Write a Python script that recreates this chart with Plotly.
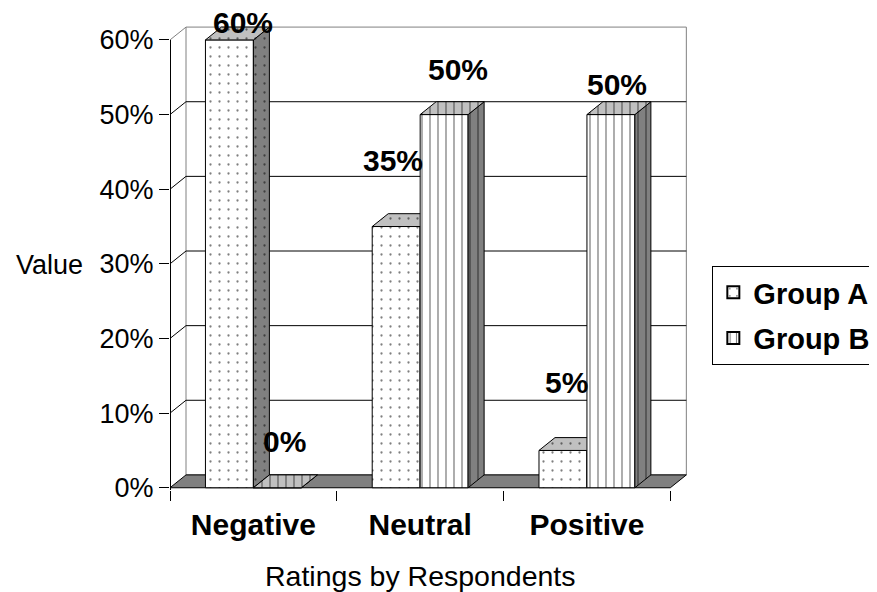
import plotly.graph_objects as go

# ---------------- data ----------------
categories = ["Negative", "Neutral", "Positive"]
series_names = ["Group A", "Group B"]
group_a = [0.60, 0.35, 0.05]
group_b = [0.00, 0.50, 0.50]
y_tick_values = [0.0, 0.1, 0.2, 0.3, 0.4, 0.5, 0.6]
x_title = "Ratings by Respondents"
y_title = "Value"

# ---------------- style ----------------
FONT = "Liberation Sans, Arial, sans-serif"
BAR_W = 0.2875          # width of one bar in category units
DX = 0.096              # 3-D depth, category units
DY = 0.0172             # 3-D depth, value units
X_RANGE = [-0.5, 2.6]
Y_RANGE = [-0.003, 0.62]
DARK = "#808080"
LIGHT = "#c0c0c0"
PAT = {
    "Group A": dict(shape=".", size=9, solidity=0.05),
    "Group B": dict(shape="|", size=8, solidity=0.16),
}
# label offsets in pixels (xshift, yshift) per series / category
LABEL_SHIFT = {
    "Group A": [(14, 17), (-3, 66), (4, 68)],
    "Group B": [(7, 46), (14, 45), (6, 30)],
}

fig = go.Figure()

# ---- walls, floor, gridlines on the base axes ----
x0w, x1w = X_RANGE[0], len(categories) - 0.5
top = y_tick_values[-1]
fig.add_trace(go.Scatter(
    x=[x0w + DX, x1w + DX, x1w + DX, x0w + DX, x0w + DX],
    y=[DY, DY, top + DY, top + DY, DY],
    fill="toself", fillcolor="white", mode="lines",
    line=dict(color=DARK, width=1), showlegend=False, hoverinfo="skip"))
gx, gy = [], []
for v in y_tick_values[1:-1]:
    gx += [x0w, x0w + DX, x1w + DX, None]
    gy += [v, v + DY, v + DY, None]
fig.add_trace(go.Scatter(x=gx, y=gy, mode="lines",
                         line=dict(color="black", width=1),
                         showlegend=False, hoverinfo="skip"))
fig.add_trace(go.Scatter(x=[x0w, x0w + DX], y=[top, top + DY], mode="lines",
                         line=dict(color=DARK, width=1),
                         showlegend=False, hoverinfo="skip"))
fig.add_trace(go.Scatter(
    x=[x0w, x1w, x1w + DX, x0w + DX, x0w],
    y=[0, 0, DY, DY, 0],
    fill="toself", fillcolor=DARK, mode="lines",
    line=dict(color="black", width=1), showlegend=False, hoverinfo="skip"))
fig.add_trace(go.Scatter(x=[x0w, x0w], y=[Y_RANGE[0], top], mode="lines",
                         line=dict(color="black", width=2),
                         showlegend=False, hoverinfo="skip"))

# ---- bars, each series on its own overlay layer ----
series_vals = {"Group A": group_a, "Group B": group_b}
for i, name in enumerate(series_names):
    ax = str(i + 2)
    vals = series_vals[name]
    offset = -BAR_W if i == 0 else 0.0
    pat = PAT[name]
    fig.add_trace(go.Bar(
        x=list(range(len(categories))), y=vals, name=name, legendgroup=name,
        width=BAR_W, offset=offset,
        marker=dict(color="white", line=dict(color="black", width=1),
                    pattern=dict(shape=pat["shape"], size=pat["size"],
                                 solidity=pat["solidity"], fgcolor="black",
                                 bgcolor="white", fillmode="overlay")),
        xaxis="x" + ax, yaxis="y" + ax, cliponaxis=False))
    for j, v in enumerate(vals):
        xl = j + offset
        xr = xl + BAR_W
        fig.add_trace(go.Scatter(
            x=[xr, xr + DX, xr + DX, xr, xr], y=[0, DY, v + DY, v, 0],
            fill="toself", fillcolor=DARK, mode="lines",
            fillpattern=dict(shape=pat["shape"], size=pat["size"],
                             solidity=pat["solidity"], fgcolor="black",
                             bgcolor=DARK, fillmode="overlay"),
            line=dict(color="black", width=1),
            xaxis="x" + ax, yaxis="y" + ax, showlegend=False, hoverinfo="skip"))
        fig.add_trace(go.Scatter(
            x=[xl, xr, xr + DX, xl + DX, xl], y=[v, v, v + DY, v + DY, v],
            fill="toself", fillcolor=LIGHT, mode="lines",
            fillpattern=dict(shape=pat["shape"], size=pat["size"],
                             solidity=pat["solidity"], fgcolor="black",
                             bgcolor=LIGHT, fillmode="overlay"),
            line=dict(color="black", width=1),
            xaxis="x" + ax, yaxis="y" + ax, showlegend=False, hoverinfo="skip"))
        sx, sy = LABEL_SHIFT[name][j]
        fig.add_annotation(
            x=xl + BAR_W / 2, y=v, xref="x", yref="y", text=f"{v:.0%}",
            showarrow=False, xshift=sx, yshift=sy, yanchor="middle", borderpad=0,
            font=dict(family=FONT, size=30, color="black", weight="bold"))

hidden = dict(range=X_RANGE, visible=False, fixedrange=True)
hiddeny = dict(range=Y_RANGE, visible=False, fixedrange=True)

# page body has an 8px margin, so the figure is 8px smaller and margins shifted
fig.update_layout(
    width=869, height=584,
    margin=dict(l=162, r=190.3, t=17, b=101.8, autoexpand=False),
    paper_bgcolor="white", plot_bgcolor="white",
    showlegend=True,
    xaxis=dict(range=X_RANGE, tickvals=list(range(len(categories))),
               ticktext=categories, ticks="", showgrid=False, zeroline=False,
               showline=False, ticklabelstandoff=14,
               tickfont=dict(family=FONT, size=30, color="black", weight="bold"),
               minor=dict(tickvals=[k - 0.5 for k in range(len(categories) + 1)],
                          ticks="outside", ticklen=10, tickcolor="black",
                          tickwidth=1, showgrid=False)),
    yaxis=dict(range=Y_RANGE, tickvals=y_tick_values, tickformat=".0%",
               ticks="outside", ticklen=10, tickcolor="black", tickwidth=1,
               showgrid=False, zeroline=False, showline=False,
               tickfont=dict(family=FONT, size=27, color="black")),
    xaxis2=dict(overlaying="x", **hidden), yaxis2=dict(overlaying="y", **hiddeny),
    xaxis3=dict(overlaying="x", **hidden), yaxis3=dict(overlaying="y", **hiddeny),
    legend=dict(x=1.049, y=0.482, xanchor="left", yanchor="top",
                bordercolor="black", borderwidth=1, bgcolor="white",
                font=dict(family=FONT, size=29, color="black", weight="bold"),
                tracegroupgap=5, itemsizing="constant"),
)

fig.add_annotation(text=y_title, xref="paper", yref="paper", x=-0.234, y=0.484,
                   showarrow=False, xanchor="center", yanchor="middle",
                   font=dict(family=FONT, size=27, color="black"))
fig.add_annotation(text=x_title, xref="paper", yref="paper", x=0.4838, y=-0.184,
                   showarrow=False, xanchor="center", yanchor="middle",
                   font=dict(family=FONT, size=28.5, color="black"))

fig.write_html("out.html")
